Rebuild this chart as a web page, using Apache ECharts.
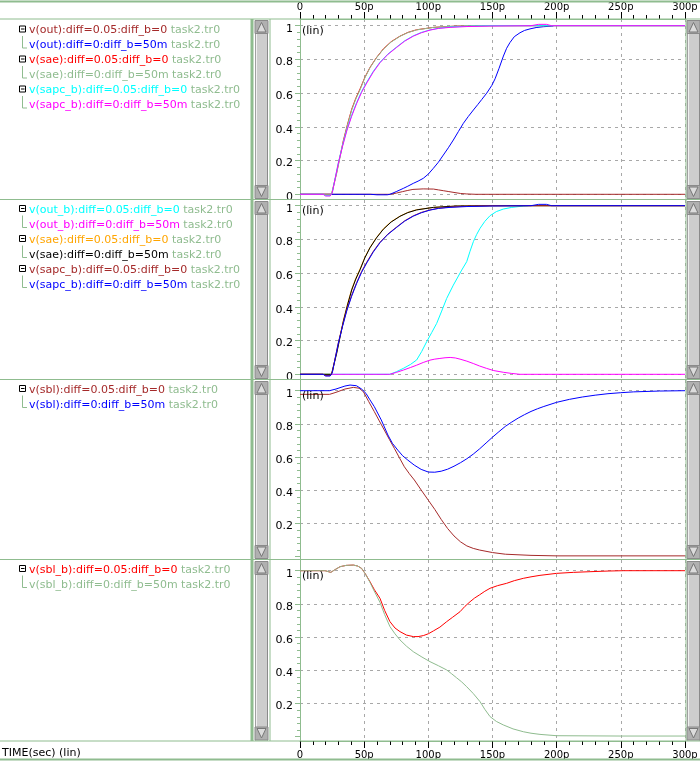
<!DOCTYPE html>
<html><head><meta charset="utf-8">
<script src="https://cdn.jsdelivr.net/npm/echarts@6/dist/echarts.min.js"></script>
<style>html,body{margin:0;padding:0;background:#fff}#c{width:700px;height:761px}</style>
</head><body><div id="c"></div>
<script>
// ---------- data (time in ps, value in V) ----------
const xTicks = [0, 50, 100, 150, 200, 250, 300];
const yTicks = [0, 0.2, 0.4, 0.6, 0.8, 1];
const fileTag = 'task2.tr0';

const names1 = ['v(out):diff=0.05:diff_b=0','v(out):diff=0:diff_b=50m','v(sae):diff=0.05:diff_b=0','v(sae):diff=0:diff_b=50m','v(sapc_b):diff=0.05:diff_b=0','v(sapc_b):diff=0:diff_b=50m'];
const names2 = ['v(out_b):diff=0.05:diff_b=0','v(out_b):diff=0:diff_b=50m','v(sae):diff=0.05:diff_b=0','v(sae):diff=0:diff_b=50m','v(sapc_b):diff=0.05:diff_b=0','v(sapc_b):diff=0:diff_b=50m'];
const names3 = ['v(sbl):diff=0.05:diff_b=0','v(sbl):diff=0:diff_b=50m'];
const names4 = ['v(sbl_b):diff=0.05:diff_b=0','v(sbl_b):diff=0:diff_b=50m'];

const out_d005 = [[0,0],[70,0],[75,0.007],[80,0.016],[84,0.023],[88,0.029],[96,0.032],[104,0.031],[108,0.026],[112,0.021],[116,0.016],[120,0.011],[125,0.005],[130,0.002],[137,0],[300,0]];
const out_d0 = [[0,0],[55,0],[60,-0.003],[68,-0.003],[70.1,0],[75,0.016],[80.5,0.035],[84,0.048],[88.3,0.065],[92,0.078],[96.1,0.095],[100,0.12],[103.9,0.154],[107.8,0.19],[111.7,0.233],[115.6,0.276],[119.5,0.322],[123.4,0.372],[127.3,0.421],[131.2,0.462],[135.1,0.5],[138.5,0.532],[141.6,0.562],[145.5,0.6],[149.4,0.645],[152,0.685],[155,0.745],[158.5,0.82],[161,0.866],[163.6,0.9],[167,0.935],[171.4,0.958],[175,0.972],[179.2,0.981],[184,0.989],[189.6,0.994],[197.4,0.998]];
const sae_d005 = [[0,0],[24.4,0],[25,0.012],[28.6,0.13],[31.2,0.225],[33.8,0.32],[37,0.415],[40.3,0.505],[43.5,0.57],[46.8,0.625],[50.5,0.693],[54.5,0.752],[59.5,0.81],[64.9,0.862],[71,0.905],[77.9,0.938],[84,0.96],[90.9,0.976],[104,0.99],[122,0.998],[150,1],[300,1]];
const sae_d0 = [[0,0],[24.5,0],[25,0.01],[28.6,0.125],[31.2,0.22],[33.8,0.315],[37,0.41],[40.3,0.5],[43.5,0.565],[46.8,0.62],[50.5,0.69],[54.5,0.75],[59.5,0.808],[64.9,0.86],[71,0.903],[77.9,0.937],[84,0.959],[90.9,0.975],[104,0.99],[122,0.998],[150,1],[300,1]];
const sapc_d005 = [[0,0],[18,0],[20,-0.008],[23.5,-0.008],[24.7,0],[25.2,0.012],[27.5,0.1],[29.9,0.188],[33,0.285],[36.4,0.38],[40.2,0.468],[44.2,0.545],[48,0.61],[52,0.665],[57,0.728],[62.3,0.783],[68.5,0.832],[75.4,0.874],[81.5,0.91],[88.3,0.94],[94.5,0.96],[101.3,0.975],[108,0.985],[116.9,0.992],[130,0.997],[148,1.0],[300,1.0]];
const sapc_d0 = [[0,0],[18,0],[20,-0.01],[23.5,-0.01],[24.7,0],[25.2,0.01],[27.5,0.097],[29.9,0.185],[33,0.28],[36.4,0.375],[40.2,0.462],[44.2,0.54],[48,0.605],[52,0.66],[57,0.724],[62.3,0.78],[68.5,0.83],[75.4,0.872],[81.5,0.908],[88.3,0.938],[94.5,0.958],[101.3,0.974],[108,0.984],[116.9,0.99],[130,0.995],[148,0.998],[180,1.0],[186,1.008],[192,1.008],[196,1.0],[300,1.0]];
const outb_d005 = [[0,0],[70,0],[75,0.015],[80.5,0.035],[86,0.058],[90.9,0.085],[94.8,0.135],[98.7,0.193],[102.6,0.247],[106.5,0.302],[110.4,0.375],[114.3,0.45],[119.5,0.529],[123,0.577],[126,0.618],[129.9,0.668],[132.5,0.73],[135.1,0.787],[137.7,0.83],[140.3,0.866],[144,0.907],[148.1,0.941],[153,0.965],[158.4,0.98],[165,0.99],[174,0.998],[178,1.0]];
const outb_d0 = [[0,0],[18,0],[20,-0.008],[23,-0.008],[25,0],[70,0],[75,0.011],[80.5,0.025],[86,0.04],[90.9,0.054],[96,0.07],[101.3,0.084],[105,0.09],[109,0.094],[113,0.098],[117,0.1],[121,0.097],[124.7,0.09],[130,0.078],[135,0.064],[140,0.049],[145.4,0.035],[151,0.022],[158.4,0.012],[165,0.005],[171.4,0],[300,0]];
const sbl_d005 = [[0,0.978],[23,0.978],[28,0.99],[35,1.01],[41.6,1.02],[46,1.015],[49.4,0.994],[53.5,0.935],[57.9,0.874],[61.8,0.818],[65.7,0.763],[69.6,0.707],[73.5,0.653],[77.4,0.597],[81.3,0.542],[85.2,0.5],[89.1,0.462],[94.4,0.402],[100,0.34],[105,0.285],[110,0.225],[115,0.17],[120,0.125],[125,0.09],[130,0.065],[135,0.05],[140,0.04],[150,0.025],[160,0.015],[180,0.008],[200,0.005],[300,0.005]];
const sbl_d0 = [[0,1.0],[23,1.0],[28,1.01],[35,1.028],[39,1.034],[44,1.03],[48,1.01],[51.4,0.984],[54.5,0.945],[57.9,0.904],[63.3,0.824],[68.5,0.733],[72,0.683],[76.2,0.642],[80,0.608],[84,0.582],[89,0.552],[94.4,0.526],[100,0.51],[105,0.509],[110,0.515],[115,0.527],[120,0.545],[125,0.566],[130,0.59],[135,0.618],[140,0.65],[145,0.685],[150,0.72],[155,0.753],[160,0.785],[165,0.811],[170,0.835],[175,0.856],[180,0.875],[185,0.891],[190,0.905],[200,0.93],[210,0.948],[220,0.962],[230,0.973],[240,0.982],[250,0.988],[260,0.993],[280,0.998],[300,1.0]];
const sblb_d005 = [[0,1.0],[19.5,1.0],[21,0.99],[24,0.99],[27,1.005],[31.2,1.024],[36,1.032],[41.6,1.034],[45,1.028],[48,1.014],[51,0.98],[54.5,0.934],[58,0.885],[62.3,0.834],[66,0.76],[70.1,0.693],[74,0.655],[77.9,0.633],[83,0.612],[88.3,0.603],[92,0.603],[96.1,0.609],[100,0.62],[103.9,0.637],[109,0.66],[114.3,0.693],[119,0.72],[124.7,0.753],[128.5,0.785],[132.5,0.813],[136,0.835],[140,0.855],[144,0.876],[148.1,0.894],[154,0.91],[161,0.924],[167,0.94],[174,0.954],[180,0.963],[187,0.972],[200,0.984],[213,0.99],[226,0.994],[240,0.998],[252,1.0],[300,1.0]];
const sblb_d0 = [[0,1.0],[19.5,1.0],[21,0.99],[24,0.99],[27,1.005],[31.2,1.024],[36,1.032],[41.6,1.034],[45,1.028],[48,1.014],[51,0.98],[54.5,0.93],[57,0.89],[62.3,0.81],[66,0.735],[70.1,0.663],[74,0.62],[77.9,0.583],[83,0.545],[88.3,0.512],[95,0.48],[101.3,0.452],[108,0.427],[114.3,0.402],[118,0.38],[122,0.355],[126,0.33],[129.9,0.301],[135,0.26],[140.3,0.211],[144,0.165],[148.1,0.121],[153,0.092],[158.4,0.071],[166,0.047],[174,0.03],[180,0.021],[187,0.014],[200,0.006],[250,0.004],[300,0.004]];

// ---------- styling / layout ----------
const GREEN = '#8fbc8f';
const FONT = '"DejaVu Sans", sans-serif';
const C = {dred:'#a52a2a', blue:'#0000ff', red:'#ff0000', green:GREEN, cyan:'#00ffff', mag:'#ff00ff', orange:'#ffa500', black:'#000000'};

const panels = [
  {top:19,  bottom:199.5, y1:25.7,  y0:194.3, legendY:30.5, names:names1,
   series:[[out_d005,C.dred],[out_d0,C.blue],[sae_d005,C.red],[sae_d0,C.green],[sapc_d005,C.cyan],[sapc_d0,C.mag]], hideZero:false},
  {top:200, bottom:379.5, y1:205.7, y0:374.3, legendY:210, names:names2,
   series:[[outb_d005,C.cyan],[outb_d0,C.mag],[sae_d005,C.orange],[sae_d0,C.black],[sapc_d005,C.dred],[sapc_d0,C.blue]], hideZero:false},
  {top:380, bottom:559.5, y1:390.7, y0:556.7, legendY:390, names:names3,
   series:[[sbl_d005,C.dred],[sbl_d0,C.blue]], hideZero:true},
  {top:560, bottom:741,   y1:570.7, y0:736.7, legendY:570, names:names4,
   series:[[sblb_d005,C.red],[sblb_d0,C.green]], hideZero:true}
];

const PL = 300, PR = 685;
const grids = [], xAxes = [], yAxes = [], series = [], graphics = [];
const xFmt = v => v === 0 ? '0' : v + 'p';

// data grids 0..3
panels.forEach((p, i) => {
  grids.push({left: PL, width: PR - PL, top: p.y1, height: p.y0 - p.y1, outerBoundsMode: 'none'});
  xAxes.push({type:'value', gridIndex:i, min:xTicks[0], max:xTicks[xTicks.length-1], interval:50, show:false});
  yAxes.push({type:'value', gridIndex:i, min:yTicks[0], max:yTicks[yTicks.length-1], interval:0.2,
    axisLine:{show:false},
    axisTick:{show:true, length:5, lineStyle:{color:GREEN}},
    minorTick:{show:true, splitNumber:5, length:3, lineStyle:{color:GREEN}},
    axisLabel:{show:true, margin:7, showMinLabel:!p.hideZero,
      formatter: v => '{a|' + v + '}',
      rich:{a:{color:'#000', fontSize:11, fontFamily:FONT, padding:[6,0,0,0]}}},
    splitLine:{show:true, showMinLine:!p.hideZero, lineStyle:{color:'#a8a8a8', type:[3,4], width:1}}
  });
  p.series.forEach(([d, col], k) => {
    series.push({type:'line', name:p.names[k], id:'p'+i+'s'+k, data:d, xAxisIndex:i, yAxisIndex:i,
      showSymbol:false, symbol:'none', clip:false, silent:true, animation:false,
      lineStyle:{color:col, width:1}, itemStyle:{color:col}, z:3+k});
  });
});
// frame grids 4..7 (full panel height, vertical dashed grid & axes)
panels.forEach((p, i) => {
  const gi = 4 + i;
  grids.push({left: PL, width: PR - PL, top: p.top, height: p.bottom - p.top, outerBoundsMode: 'none'});
  const isTop = i === 0, isBot = i === 3;
  xAxes.push({type:'value', gridIndex:gi, min:0, max:300, interval:50,
    position: isTop ? 'top' : 'bottom',
    axisLine:{show: isTop || isBot, onZero:false, lineStyle:{color:GREEN}},
    axisTick:{show: isTop || isBot, length:7, lineStyle:{color:'#000'}},
    minorTick:{show: isTop || isBot, splitNumber:5, length:4, lineStyle:{color:'#000'}},
    axisLabel:{show: isTop || isBot, formatter:xFmt, color:'#000', fontSize:10, fontFamily:FONT, margin: isTop ? 7 : 9},
    splitLine:{show:true, showMinLine:false, lineStyle:{color:'#a8a8a8', type:[3,4], width:1}}
  });
  yAxes.push({type:'value', gridIndex:gi, min:0, max:1,
    axisLine:{show:true, onZero:false, lineStyle:{color:GREEN}},
    axisTick:{show:false}, axisLabel:{show:false}, splitLine:{show:false}});
});

// ---------- graphics: frame lines, scrollbars, legend tree ----------
function hline(y, x1, x2, w) { graphics.push({type:'line', shape:{x1, y1:y, x2, y2:y}, style:{stroke:GREEN, lineWidth:w||1}, z:50, silent:true}); }
function vline(x, y1, y2, w) { graphics.push({type:'line', shape:{x1:x, y1, x2:x, y2}, style:{stroke:GREEN, lineWidth:w||1}, z:50, silent:true}); }
hline(1.5, 0, 700, 2);
hline(19, 0, 700);
hline(199.5, 0, 700); hline(379.5, 0, 700); hline(559.5, 0, 700);
hline(741, 0, 700);
hline(759.5, 0, 700, 2);
vline(252, 19, 741, 3);
vline(270, 19, 741);
vline(686, 19, 741);

function scrollbar(x, w, top, bot) {
  const h = bot - top;
  graphics.push({type:'rect', shape:{x, y:top, width:w, height:h}, style:{fill:'#cdcdcd'}, z:40, silent:true});
  graphics.push({type:'line', shape:{x1:x+1.5, y1:top, x2:x+1.5, y2:bot}, style:{stroke:'#f0f0f0'}, z:41, silent:true});
  graphics.push({type:'line', shape:{x1:x+w-0.5, y1:top, x2:x+w-0.5, y2:bot}, style:{stroke:'#8a8a8a'}, z:41, silent:true});
  graphics.push({type:'line', shape:{x1:x+0.5, y1:top, x2:x+0.5, y2:bot}, style:{stroke:'#a0a0a0'}, z:41, silent:true});
  graphics.push({type:'rect', shape:{x, y:top+0.5, width:w, height:13}, style:{fill:'#b0b0b0', stroke:'#8a8a8a', lineWidth:1}, z:42, silent:true});
  graphics.push({type:'polygon', shape:{points:[[x+w/2, top+2.5],[x+2, top+12],[x+w-2, top+12]]}, style:{fill:'#dcdcdc', stroke:'#777', lineWidth:1}, z:43, silent:true});
  graphics.push({type:'rect', shape:{x, y:bot-13.5, width:w, height:13}, style:{fill:'#b0b0b0', stroke:'#8a8a8a', lineWidth:1}, z:42, silent:true});
  graphics.push({type:'polygon', shape:{points:[[x+2, bot-12],[x+w-2, bot-12],[x+w/2, bot-2.5]]}, style:{fill:'#dcdcdc', stroke:'#777', lineWidth:1}, z:43, silent:true});
}
panels.forEach(p => {
  scrollbar(255, 13, p.top + 1, p.bottom - 0.5);
  scrollbar(687, 13, p.top + 1, p.bottom - 0.5);
  graphics.push({type:'text', style:{x:302, y:p.y1 + 5, text:'(lin)', fill:'#000', font:'11px ' + FONT, verticalAlign:'middle'}, z:60, silent:true});
  p.names.forEach((nm, k) => {
    const y = p.legendY + k * 15;
    const col = p.series[k][1];
    graphics.push({type:'text', style:{x:29, y, text:'{n|' + nm + '} {t|' + fileTag + '}', verticalAlign:'middle', font:'11px ' + FONT,
      rich:{n:{fill:col, fontSize:11, fontFamily:FONT}, t:{fill:GREEN, fontSize:11, fontFamily:FONT}}}, z:60, silent:true});
    if (k % 2 === 0) {
      graphics.push({type:'rect', shape:{x:19.5, y:y-4.5, width:6, height:6}, style:{fill:'#fff', stroke:'#000', lineWidth:1}, z:60, silent:true});
      graphics.push({type:'line', shape:{x1:21, y1:y-1.5, x2:24.5, y2:y-1.5}, style:{stroke:'#000', lineWidth:1}, z:61, silent:true});
    } else {
      const yp = p.legendY + (k - 1) * 15;
      graphics.push({type:'polyline', shape:{points:[[22.5, yp+5.5],[22.5, y+2.5],[27, y+2.5]]}, style:{stroke:GREEN, fill:null, lineWidth:1}, z:60, silent:true});
    }
  });
});
graphics.push({type:'text', style:{x:2, y:753, text:'TIME(sec) (lin)', fill:'#000', font:'11px ' + FONT, verticalAlign:'middle'}, z:60, silent:true});

const chart = echarts.init(document.getElementById('c'), null, {renderer:'canvas'});
chart.setOption({
  animation:false,
  backgroundColor:'#ffffff',
  grid:grids, xAxis:xAxes, yAxis:yAxes, series:series,
  graphic:{elements:graphics}
});
</script></body></html>
